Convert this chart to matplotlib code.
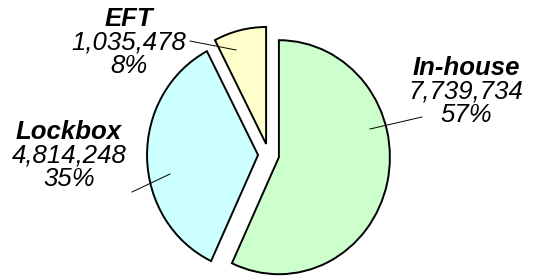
import matplotlib
matplotlib.use("Agg")
import matplotlib.pyplot as plt

categories = ["In-house", "Lockbox", "EFT"]
values = [7739734, 4814248, 1035478]
colors = ["#CCFFCC", "#CCFFFF", "#FFFFCC"]

W, H = 534, 276
fig = plt.figure(figsize=(W / 100, H / 100), dpi=100)
ax = fig.add_axes([0, 0, 1, 1])

# pie geometry (layout)
cx_px, cy_px = 268.6, 154.8   # centre in pixels from top-left
rx_px, ry_px = 111.0, 117.0   # radius in pixels

wedges, _ = ax.pie(values, colors=colors, startangle=90, counterclock=False,
                   explode=[0.095] * len(values), radius=1.0,
                   wedgeprops=dict(edgecolor="black", linewidth=1.4))

xmin = -cx_px / rx_px
xmax = (W - cx_px) / rx_px
ymax = cy_px / ry_px
ymin = -(H - cy_px) / ry_px
ax.set_aspect("auto")
ax.set_xlim(xmin, xmax)
ax.set_ylim(ymin, ymax)
ax.axis("off")


def px(x, y):
    return (xmin + x / W * (xmax - xmin), ymax - y / H * (ymax - ymin))


total = sum(values)
# label layout: (centre x, first-line y), leader start, leader end in pixels
label_layout = {
    "In-house": ((466, 68), (370, 129), (422, 117)),
    "Lockbox": ((69, 132), (170, 174), (132, 192)),
    "EFT": ((129, 19), (236, 50), (190, 41)),
}
font = "Liberation Sans"
fs = 18.5
step = 23.5
for name, val in zip(categories, values):
    (tx, ty), a, b = label_layout[name]
    pct = f"{round(val / total * 100):d}%"
    ax.text(*px(tx, ty), name, ha="center", va="center", fontsize=fs,
            fontweight="bold", fontstyle="italic", family=font)
    ax.text(*px(tx, ty + step), f"{val:,}", ha="center", va="center",
            fontsize=fs, fontstyle="italic", family=font)
    ax.text(*px(tx, ty + 2 * step), pct, ha="center", va="center",
            fontsize=fs, fontstyle="italic", family=font)
    xa, ya = px(*a)
    xb, yb = px(*b)
    ax.plot([xa, xb], [ya, yb], color="black", linewidth=0.7)

fig.savefig("out.png", dpi=100)
